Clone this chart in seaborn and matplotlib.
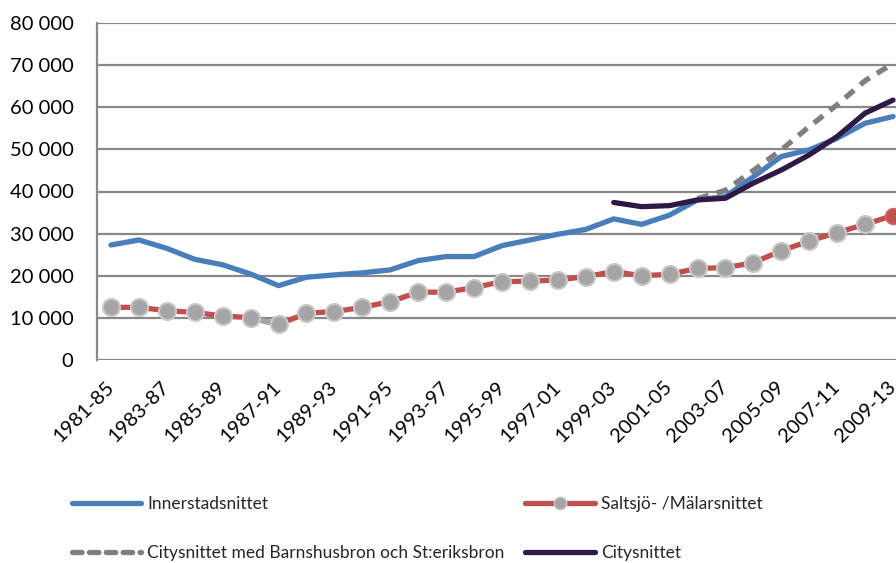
import numpy as np
import pandas as pd
import seaborn as sns
import matplotlib.pyplot as plt
import matplotlib.transforms as mtransforms
from matplotlib.lines import Line2D
from matplotlib.ticker import FuncFormatter

# Rolling five-year periods
periods = [f"{y}-{str(y + 4)[-2:]}" for y in range(1981, 2010)]

innerstad = [27300, 28500, 26500, 23900, 22600, 20400, 17650, 19650, 20200, 20700,
             21400, 23600, 24550, 24550, 27150, 28500, 29850, 31000, 33500, 32200,
             34400, 38000, 38800, 43500, 48300, 49900, 52650, 56200, 57800]

saltsjo = [12500, 12500, 11700, 11300, 10450, 10050, 8450, 11100, 11500, 12500,
           13850, 16100, 16100, 17200, 18600, 18700, 19000, 19800, 21000, 20000,
           20350, 21750, 21900, 23100, 25950, 28250, 30250, 32200, 34300]

city_broar = [np.nan] * 21 + [38300, 40300, 45000, 49900, 55400, 60600, 66300, 70400]

city = [np.nan] * 18 + [37400, 36400, 36650, 38000, 38400, 42000, 45100, 48700,
                        53050, 58600, 61700]

labels = ["Innerstadsnittet", "Saltsjö- /Mälarsnittet",
          "Citysnittet med Barnshusbron och St:eriksbron", "Citysnittet"]

df = pd.DataFrame({
    "idx": np.arange(len(periods)),
    "period": periods,
    "inner": innerstad,
    "saltsjo": saltsjo,
    "broar": city_broar,
    "city": city,
})

sns.set_theme(style="white")
plt.rcParams["font.family"] = ["Lato", "DejaVu Sans"]

BLUE = "#4a7ebb"
RED = "#c0504d"
GREY_DASH = "#7f7f7f"
DARK = "#2f1a45"
MARK = "#a5a5a5"
MARK_EDGE = "#c8c8c8"
GRID = "#888888"
LW = 3.8

fig = plt.figure(figsize=(8.96, 5.63), dpi=100)
ax = fig.add_axes([97 / 896, 1 - 360 / 563, 810 / 896, 337 / 563])

# Horizontal grid drawn first
for v in range(0, 80001, 10000):
    ax.axhline(v, color=GRID, lw=1.6, zorder=0)

# Saltsjö-/Mälarsnittet: red line, one grey segment, grey markers
sns.lineplot(data=df, x="idx", y="saltsjo", color=RED, lw=LW, ax=ax, zorder=2)
seg = df.iloc[5:7]
sns.lineplot(data=seg, x="idx", y="saltsjo", color=MARK, lw=LW, ax=ax, zorder=2.1)
sns.scatterplot(data=df.iloc[:-1], x="idx", y="saltsjo", color=MARK, s=150,
                edgecolor=MARK_EDGE, linewidth=1.5, ax=ax, zorder=3)
sns.scatterplot(data=df.iloc[-1:], x="idx", y="saltsjo", color=RED, s=130,
                edgecolor="#d46a67", linewidth=1.2, ax=ax, zorder=3)

sns.lineplot(data=df, x="idx", y="inner", color=BLUE, lw=LW, ax=ax, zorder=4)
sns.lineplot(data=df, x="idx", y="broar", color=GREY_DASH, lw=LW, ax=ax, zorder=4.5,
             linestyle=(0, (2.2, 1.6)))
sns.lineplot(data=df, x="idx", y="city", color=DARK, lw=LW, ax=ax, zorder=5)

ax.set_xlim(-0.5, len(periods) - 0.5)
ax.set_ylim(0, 80000)
ax.set_yticks(range(0, 80001, 10000))
ax.yaxis.set_major_formatter(FuncFormatter(lambda v, p: f"{int(v):,}".replace(",", " ")))
ax.set_xticks(df["idx"][::2])
ax.tick_params(axis="y", length=0, pad=17, labelsize=14.5, colors="#000000")
ax.tick_params(axis="x", length=0, pad=8, labelsize=14.5, colors="#000000")
ax.set_xticklabels(df["period"][::2], rotation=45, ha="right", va="top",
                   rotation_mode="anchor")
# Nudge the slanted period labels slightly left and down
shift = mtransforms.ScaledTranslation(-6 / 100, -7 / 100, fig.dpi_scale_trans)
for tick in ax.xaxis.get_major_ticks():
    tick.label1.set_transform(tick.label1.get_transform() + shift)
ax.set_xlabel("")
ax.set_ylabel("")
for side in ["top", "right", "bottom"]:
    ax.spines[side].set_visible(False)
ax.spines["left"].set_color(GRID)
ax.spines["left"].set_linewidth(1.6)
ax.grid(False)

handles = [
    Line2D([], [], color=BLUE, lw=LW, solid_capstyle="round"),
    Line2D([], [], color=GREY_DASH, lw=LW, linestyle=(0, (1.8, 1.4)), dash_capstyle="round"),
    Line2D([], [], color=RED, lw=LW, marker="o", markersize=9, markerfacecolor=MARK,
           markeredgecolor=MARK_EDGE),
    Line2D([], [], color=DARK, lw=LW, solid_capstyle="round"),
]
fig.legend(handles, [labels[0], labels[2], labels[1], labels[3]],
           loc="upper left", bbox_to_anchor=(56 / 896, 1 - 480 / 563), ncol=2,
           frameon=False, fontsize=12.5, handlelength=4.0, handletextpad=0.35,
           columnspacing=1.2, labelspacing=1.95)

fig.savefig("out.png", dpi=100)
